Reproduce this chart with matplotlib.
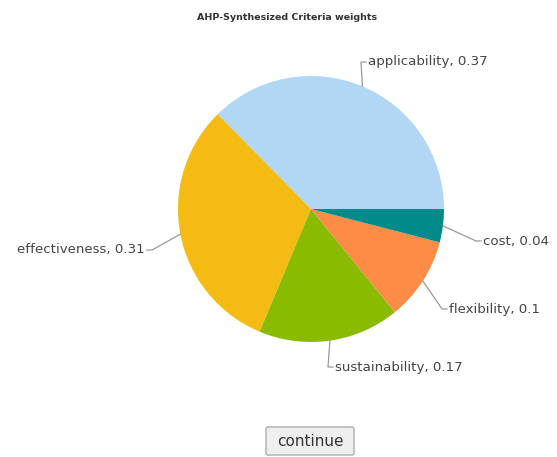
import numpy as np
import matplotlib.pyplot as plt
from matplotlib.patches import FancyBboxPatch

# criteria weights from the AHP synthesis
criteria = ["applicability", "effectiveness", "sustainability", "flexibility", "cost"]
weights = [0.37, 0.31, 0.17, 0.1, 0.04]
colors = ["#b1d7f4", "#f4bc12", "#8abb00", "#ff8c46", "#008b8b"]

# label anchor (pixel coords, y down) and which side the text sits on
label_pos = {
    "applicability": (368, 62, "left"),
    "effectiveness": (145, 250, "right"),
    "sustainability": (335, 367, "left"),
    "flexibility": (449, 309, "left"),
    "cost": (483, 241, "left"),
}

W, H = 557, 457
CX, CY, R = 311, 209, 133

fig = plt.figure(figsize=(W / 100, H / 100), dpi=100)
ax = fig.add_axes([0, 0, 1, 1])

# pie in a flipped y axis: draw clockwise so slices go counter-clockwise on screen
wedges, _ = ax.pie(weights, colors=colors, startangle=0, counterclock=False,
                   center=(CX, CY), radius=R, wedgeprops=dict(linewidth=0),
                   frame=True)
ax.set_xlim(0, W)
ax.set_ylim(H, 0)
ax.set_aspect("equal")
ax.axis("off")

total = sum(weights)
start = 0.0
for name, w in zip(criteria, weights):
    span = w / total * 360
    mid = np.radians(start + span / 2)
    start += span
    ex, ey = CX + R * np.cos(mid), CY - R * np.sin(mid)
    lx, ly, side = label_pos[name]
    if side == "left":
        bx, tx = lx - 7, lx - 2
        ha = "left"
    else:
        bx, tx = lx + 7, lx + 2
        ha = "right"
    ax.plot([ex, bx, tx], [ey, ly, ly], color="#999999", lw=0.9,
            solid_joinstyle="miter")
    ax.text(lx, ly, f"{name}, {w:g}", ha=ha, va="center", fontsize=9.6,
            color="#444444")

ax.text(287, 17, "AHP-Synthesized Criteria weights", ha="center", va="center",
        fontsize=6.8, fontweight="bold", color="#333333")

# continue button
btn = FancyBboxPatch((266, 427), 88, 28, boxstyle="round,pad=0,rounding_size=2",
                     facecolor="#efefef", edgecolor="#adadad", lw=1)
ax.add_patch(btn)
ax.text(310, 441, "continue", ha="center", va="center", fontsize=11,
        color="#333333")

fig.savefig("out.png", dpi=100)
